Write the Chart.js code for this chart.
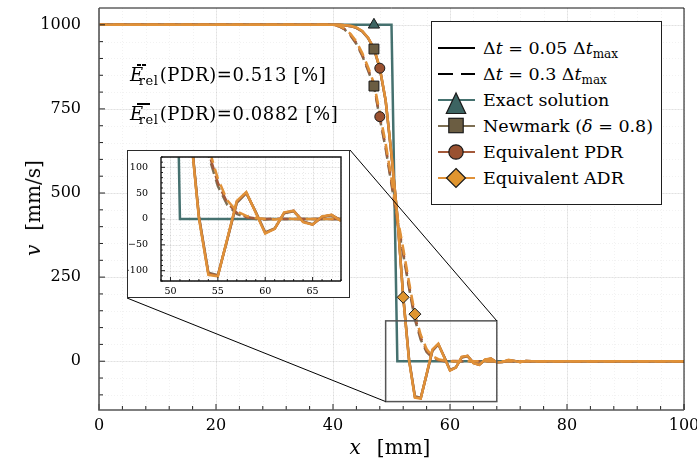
<!DOCTYPE html>
<html>
<head>
<meta charset="utf-8">
<title>Velocity profile v(x)</title>
<script src="https://cdn.jsdelivr.net/npm/chart.js"></script>
<style>
  body { margin: 0; background: #fff; }
  #wrap { position: relative; width: 697px; height: 461px; font-family: "DejaVu Serif", serif; color: #000; }
  #main { position: absolute; left: 0; top: 0; }
  #insetBox { position: absolute; left: 127px; top: 150px; width: 223px; height: 148px; box-sizing: border-box; border: 1.5px solid #2b2b2b; background: #fff; }
  #insetBox canvas { display: block; }
  #legend { position: absolute; left: 431px; top: 21px; width: 231px; height: 184px; box-sizing: border-box; border: 1.3px solid #1e1e1e; background: #fff; }
  .row { position: absolute; left: 5px; height: 26px; display: flex; align-items: center; font-size: 17.5px; white-space: nowrap; }
  .row svg { margin-right: 8px; overflow: visible; }
  sub { font-size: 12px; vertical-align: -4px; line-height: 0; }
  .note { position: absolute; left: 130px; font-size: 18px; line-height: 24px; white-space: nowrap; letter-spacing: 0.6px; }
  .note .rel { font-size: 13px; position: relative; top: 4px; margin-left: -5px; margin-right: 1px; }
  .note .bar { position: absolute; left: 7px; top: 1px; height: 1.6px; background: #000; }
  .note .bar.dashed { width: 9px; background: linear-gradient(to right, #000 0 42%, transparent 42% 58%, #000 58% 100%); }
  .note .bar.solid { width: 13px; }
  .axTitle { position: absolute; font-size: 20px; white-space: nowrap; }
</style>
</head>
<body>
<div id="wrap">
  <canvas id="main" width="697" height="461"></canvas>
  <div id="insetBox"><canvas id="inset" width="220" height="145"></canvas></div>
  <div class="note" style="top:63px"><i>E</i><span class="rel">rel</span>(PDR)=0.513 [%]<span class="bar dashed"></span></div>
  <div class="note" style="top:102px"><i>E</i><span class="rel">rel</span>(PDR)=0.0882 [%]<span class="bar solid"></span></div>
  <div id="legend"></div>
  <div class="axTitle" style="left:390px; top:447px; transform:translate(-50%,-50%)"><i>x</i><span style="margin-left:16px">[mm]</span></div>
  <div class="axTitle" style="left:33px; top:208px; transform:translate(-50%,-50%) rotate(-90deg)"><i>v</i><span style="margin-left:14px">[mm/s]</span></div>
</div>
<script>
// node positions along the bar [mm]
const xs = [0, 40, 41, 42, 43, 44, 45, 46, 47, 48, 49, 50, 51, 52, 53, 54, 55, 56, 57, 58,
            59, 60, 61, 62, 63, 64, 65, 66, 67, 68, 69, 70, 71, 72, 73, 74, 75, 76, 100];

const exact = [1000, 1000, 1000, 1000, 1000, 1000, 1000, 1000, 1000, 1000, 1000, 1000, 0, 0, 0, 0, 0, 0, 0, 0,
               0, 0, 0, 0, 0, 0, 0, 0, 0, 0, 0, 0, 0, 0, 0, 0, 0, 0, 0];

// dt = 0.05 dt_max
const newmarkFine = [1000, 1000, 1000, 999, 996, 991, 980, 960, 928, 870, 774, 613, 432, 194, 6, -104, -109, -40, 31, 50,
                     14, -26, -18, 11, 15, -5, -10, 4, 7, -3, -2, 3, 1, -2, 1, 0, 0, 0, 0];
const pdrFine = [1000, 1000, 1000, 999, 996, 991, 981, 961, 929, 871, 775, 614, 431, 192, 4, -106, -110, -39, 33, 51,
                 13, -27, -19, 12, 16, -5, -11, 4, 8, -3, -2, 3, 1, -2, 1, 0, 0, 0, 0];
const adrFine = [1000, 1000, 1000, 999, 997, 992, 982, 962, 930, 872, 776, 615, 430, 190, 2, -108, -111, -38, 35, 52,
                 12, -28, -19, 13, 16, -6, -11, 5, 8, -4, -2, 4, 1, -3, 1, 0, 0, 0, 0];

// dt = 0.3 dt_max
const newmarkCoarse = [1000, 1000, 996, 986, 968, 943, 908, 864, 818, 722, 632, 526, 414, 318, 218, 124, 64, 27, 10, 3,
                       0, -1, 0, 0, 0, 0, 0, 0, 0, 0, 0, 0, 0, 0, 0, 0, 0, 0, 0];
const pdrCoarse = [1000, 1000, 996, 987, 970, 946, 911, 868, 820, 727, 638, 532, 420, 325, 225, 131, 70, 31, 12, 4,
                   1, 0, 1, 0, 0, 0, 0, 0, 0, 0, 0, 0, 0, 0, 0, 0, 0, 0, 0];
const adrCoarse = [1000, 1000, 997, 989, 973, 950, 916, 874, 826, 738, 648, 543, 430, 335, 235, 140, 78, 36, 15, 6,
                   2, 0, -1, 1, 0, 0, 0, 0, 0, 0, 0, 0, 0, 0, 0, 0, 0, 0, 0];

const xMajorTicks = [0, 20, 40, 60, 80, 100];
const yMajorTicks = [0, 250, 500, 750, 1000];
const insetXTicks = [50, 55, 60, 65];
const insetYTicks = [-100, -50, 0, 50, 100];

const zoomRange = { xMin: 49, xMax: 68, yMin: -120, yMax: 120 };

const colors = {
  exact:   { line: '#45716f', fill: '#3c6462' },
  newmark: { line: '#7d6f53', fill: '#6b5d42' },
  pdr:     { line: '#a3593a', fill: '#9a5130' },
  adr:     { line: '#e09138', fill: '#e0952f' }
};

Chart.defaults.font.family = "'DejaVu Serif', serif";
Chart.defaults.color = '#000';

function series(values) {
  return xs.map((x, i) => ({ x: x, y: values[i] }));
}

function stepList(from, to, step) {
  const out = [];
  for (let v = from; v <= to + 1e-9; v += step) out.push(v);
  return out;
}

function lineSet(values, color, dashed, order, dashOffset) {
  return {
    data: series(values),
    borderColor: color,
    borderWidth: 2.5,
    borderDash: dashed ? [11, 6] : [],
    borderDashOffset: dashOffset || 0,
    pointRadius: 0,
    fill: false,
    tension: 0,
    order: order,
    clip: 0
  };
}

function lineSets() {
  return [
    lineSet(adrFine, colors.adr.line, false, 1),
    lineSet(adrCoarse, colors.adr.line, true, 2, 3),
    lineSet(pdrFine, colors.pdr.line, false, 3),
    lineSet(pdrCoarse, colors.pdr.line, true, 4, 1.5),
    lineSet(newmarkFine, colors.newmark.line, false, 5),
    lineSet(newmarkCoarse, colors.newmark.line, true, 6, 0),
    lineSet(exact, colors.exact.line, false, 7)
  ];
}

function markerSet(picks, style, fill, radius) {
  return {
    data: picks.map(p => ({ x: p[1], y: p[0][xs.indexOf(p[1])] })),
    showLine: false,
    pointStyle: style,
    pointRadius: radius,
    pointBackgroundColor: fill,
    pointBorderColor: '#1a1a1a',
    pointBorderWidth: 1,
    order: 0
  };
}

function markerSets() {
  return [
    markerSet([[exact, 47]], 'triangle', colors.exact.fill, 6.5),
    markerSet([[newmarkFine, 47], [newmarkCoarse, 47]], 'rect', colors.newmark.fill, 7),
    markerSet([[pdrFine, 48], [pdrCoarse, 48]], 'circle', colors.pdr.fill, 5),
    markerSet([[adrFine, 52], [adrCoarse, 54]], 'rectRot', colors.adr.fill, 6)
  ];
}

// grid, inward ticks and the frame around the plot area
function axesFrame(cfg) {
  return {
    id: 'axesFrame',
    beforeDatasetsDraw(chart) {
      const { ctx, chartArea: a, scales: { x, y } } = chart;
      ctx.save();
      ctx.lineWidth = 1;
      ctx.strokeStyle = cfg.minorGrid;
      ctx.setLineDash([1, 2]);
      ctx.beginPath();
      cfg.xMinor.forEach(v => { const p = Math.round(x.getPixelForValue(v)) + 0.5; ctx.moveTo(p, a.top); ctx.lineTo(p, a.bottom); });
      cfg.yMinor.forEach(v => { const p = Math.round(y.getPixelForValue(v)) + 0.5; ctx.moveTo(a.left, p); ctx.lineTo(a.right, p); });
      ctx.stroke();
      ctx.setLineDash([]);
      ctx.strokeStyle = cfg.majorGrid;
      ctx.beginPath();
      cfg.xMajor.forEach(v => { const p = Math.round(x.getPixelForValue(v)) + 0.5; ctx.moveTo(p, a.top); ctx.lineTo(p, a.bottom); });
      cfg.yMajor.forEach(v => { const p = Math.round(y.getPixelForValue(v)) + 0.5; ctx.moveTo(a.left, p); ctx.lineTo(a.right, p); });
      ctx.stroke();
      ctx.restore();
    },
    afterDatasetsDraw(chart) {
      const { ctx, chartArea: a, scales: { x, y } } = chart;
      ctx.save();
      ctx.strokeStyle = '#222';
      ctx.lineWidth = 1;
      ctx.beginPath();
      cfg.xMinor.forEach(v => {
        const p = x.getPixelForValue(v);
        const len = cfg.xMajor.includes(v) ? cfg.majorLen : cfg.minorLen;
        ctx.moveTo(p, a.bottom); ctx.lineTo(p, a.bottom - len);
      });
      cfg.yMinor.forEach(v => {
        const p = y.getPixelForValue(v);
        const len = cfg.yMajor.includes(v) ? cfg.majorLen : cfg.minorLen;
        ctx.moveTo(a.left, p); ctx.lineTo(a.left + len, p);
      });
      ctx.stroke();
      ctx.lineWidth = cfg.frameWidth;
      ctx.strokeStyle = cfg.frameTop;
      ctx.beginPath();
      ctx.moveTo(a.left, a.top); ctx.lineTo(a.right, a.top); ctx.lineTo(a.right, a.bottom);
      ctx.stroke();
      ctx.strokeStyle = cfg.frameAxis;
      ctx.lineWidth = cfg.axisWidth;
      ctx.beginPath();
      ctx.moveTo(a.left, a.top); ctx.lineTo(a.left, a.bottom); ctx.lineTo(a.right, a.bottom);
      ctx.stroke();
      ctx.restore();
    }
  };
}

// zoom window on the main axes and the two connector lines to the inset
const zoomMarker = {
  id: 'zoomMarker',
  afterDatasetsDraw(chart) {
    const { ctx, scales: { x, y } } = chart;
    const l = x.getPixelForValue(zoomRange.xMin), r = x.getPixelForValue(zoomRange.xMax);
    const t = y.getPixelForValue(zoomRange.yMax), b = y.getPixelForValue(zoomRange.yMin);
    const box = document.getElementById('insetBox');
    const bl = box.offsetLeft, bt = box.offsetTop;
    const br = bl + box.offsetWidth, bb = bt + box.offsetHeight;
    ctx.save();
    ctx.strokeStyle = '#555';
    ctx.lineWidth = 1.5;
    ctx.strokeRect(l, t, r - l, b - t);
    ctx.strokeStyle = '#000';
    ctx.lineWidth = 1;
    ctx.beginPath();
    ctx.moveTo(br, bt); ctx.lineTo(r, t);
    ctx.moveTo(bl, bb); ctx.lineTo(l, b);
    ctx.stroke();
    ctx.restore();
  }
};

function minusSign(v) {
  return String(v).replace('-', '\u2212');
}

new Chart(document.getElementById('main'), {
  type: 'line',
  data: { datasets: lineSets().concat(markerSets()) },
  options: {
    responsive: false,
    animation: false,
    layout: { padding: { left: 0, right: 13, top: 7, bottom: 0 } },
    plugins: { legend: { display: false }, tooltip: { enabled: false } },
    scales: {
      x: {
        type: 'linear', min: 0, max: 100,
        grid: { display: false }, border: { display: false },
        ticks: { font: { size: 16 }, padding: -2, maxRotation: 0, autoSkip: false, callback: minusSign },
        afterBuildTicks: ax => { ax.ticks = xMajorTicks.map(v => ({ value: v })); },
        afterFit: ax => { ax.height = 51; ax.paddingLeft = 0; ax.paddingRight = 0; }
      },
      y: {
        type: 'linear', min: -145, max: 1050,
        grid: { display: false }, border: { display: false },
        ticks: { font: { size: 16 }, padding: 10, autoSkip: false, callback: minusSign },
        afterBuildTicks: ax => { ax.ticks = yMajorTicks.map(v => ({ value: v })); },
        afterFit: ax => { ax.width = 99; ax.paddingTop = 0; ax.paddingBottom = 0; }
      }
    }
  },
  plugins: [axesFrame({
    xMajor: xMajorTicks, xMinor: stepList(0, 100, 4),
    yMajor: yMajorTicks, yMinor: stepList(-100, 1000, 50),
    majorLen: 6, minorLen: 4,
    majorGrid: 'rgba(0,0,0,0.07)', minorGrid: 'rgba(0,0,0,0.05)',
    frameTop: '#111', frameAxis: '#555', frameWidth: 1, axisWidth: 1.6
  }), zoomMarker]
});

new Chart(document.getElementById('inset'), {
  type: 'line',
  data: { datasets: lineSets() },
  options: {
    responsive: false,
    animation: false,
    layout: { padding: { left: 0, right: 7, top: 6, bottom: 0 } },
    plugins: { legend: { display: false }, tooltip: { enabled: false } },
    scales: {
      x: {
        type: 'linear', min: zoomRange.xMin, max: zoomRange.xMax,
        grid: { display: false }, border: { display: false },
        ticks: { font: { size: 9.5 }, padding: -3, maxRotation: 0, autoSkip: false, callback: minusSign },
        afterBuildTicks: ax => { ax.ticks = insetXTicks.map(v => ({ value: v })); },
        afterFit: ax => { ax.height = 15; ax.paddingLeft = 0; ax.paddingRight = 0; }
      },
      y: {
        type: 'linear', min: zoomRange.yMin, max: zoomRange.yMax,
        grid: { display: false }, border: { display: false },
        ticks: { font: { size: 9.5 }, padding: 5, autoSkip: false, callback: minusSign },
        afterBuildTicks: ax => { ax.ticks = insetYTicks.map(v => ({ value: v })); },
        afterFit: ax => { ax.width = 33; ax.paddingTop = 0; ax.paddingBottom = 0; }
      }
    }
  },
  plugins: [axesFrame({
    xMajor: insetXTicks, xMinor: stepList(49, 68, 1),
    yMajor: insetYTicks, yMinor: stepList(-120, 120, 10),
    majorLen: 4, minorLen: 2,
    majorGrid: 'rgba(0,0,0,0.06)', minorGrid: 'rgba(0,0,0,0.08)',
    frameTop: '#111', frameAxis: '#111', frameWidth: 1.4, axisWidth: 1.4
  })]
});

// legend
const legendEntries = [
  { html: 'Δ<i>t</i> = 0.05 Δ<i>t</i><sub>max</sub>', line: '#000' },
  { html: 'Δ<i>t</i> = 0.3 Δ<i>t</i><sub>max</sub>', line: '#000', dash: '15 8' },
  { html: 'Exact solution', line: colors.exact.line, marker: 'triangle', fill: colors.exact.fill },
  { html: 'Newmark (<i>δ</i> = 0.8)', line: colors.newmark.line, marker: 'square', fill: colors.newmark.fill },
  { html: 'Equivalent PDR', line: colors.pdr.line, marker: 'circle', fill: colors.pdr.fill },
  { html: 'Equivalent ADR', line: colors.adr.line, marker: 'diamond', fill: colors.adr.fill }
];

function legendIcon(e) {
  const stroke = 'stroke="#1a1a1a" stroke-width="1.2"';
  let s = '<svg width="38" height="26" viewBox="0 0 38 26">';
  s += '<line x1="1" y1="13" x2="38" y2="13" stroke="' + e.line + '" stroke-width="' + (e.marker ? 1.8 : 2) + '"' +
       (e.dash ? ' stroke-dasharray="' + e.dash + '"' : '') + '/>';
  if (e.marker === 'triangle') s += '<polygon points="19,6 9.3,26.5 28.7,26.5" fill="' + e.fill + '" ' + stroke + '/>';
  if (e.marker === 'square') s += '<rect x="11.8" y="5.3" width="14.4" height="14.4" fill="' + e.fill + '" ' + stroke + '/>';
  if (e.marker === 'circle') s += '<circle cx="19" cy="13" r="7.2" fill="' + e.fill + '" ' + stroke + '/>';
  if (e.marker === 'diamond') s += '<polygon points="19,3.5 28.5,13 19,22.5 9.5,13" fill="' + e.fill + '" ' + stroke + '/>';
  return s + '</svg>';
}

const legend = document.getElementById('legend');
legendEntries.forEach((e, i) => {
  const row = document.createElement('div');
  row.className = 'row';
  row.style.top = (13 + i * 26) + 'px';
  row.innerHTML = legendIcon(e) + '<span>' + e.html + '</span>';
  legend.appendChild(row);
});
</script>
</body>
</html>
